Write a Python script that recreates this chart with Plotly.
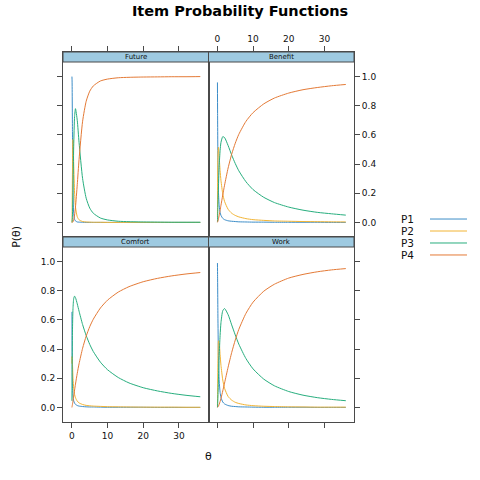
import plotly.graph_objects as go

# ---- data ----
theta = [0.01, 0.05, 0.15, 0.3, 0.5, 0.75, 1, 1.5, 2, 3, 4, 5, 6, 8, 10, 13, 16, 20, 24, 28, 32, 36]

future_p1 = [1.000, 0.970, 0.623, 0.203, 0.060, 0.021, 0.010, 0.003, 0.002, 0.001, 0.000, 0.000, 0.000, 0.000, 0.000, 0.000, 0.000, 0.000, 0.000, 0.000, 0.000, 0.000]
future_p2 = [0.000, 0.028, 0.334, 0.569, 0.400, 0.201, 0.106, 0.039, 0.018, 0.006, 0.003, 0.002, 0.001, 0.001, 0.000, 0.000, 0.000, 0.000, 0.000, 0.000, 0.000, 0.000]
future_p3 = [0.000, 0.002, 0.043, 0.224, 0.522, 0.727, 0.780, 0.700, 0.549, 0.300, 0.166, 0.098, 0.063, 0.030, 0.017, 0.008, 0.005, 0.003, 0.002, 0.001, 0.001, 0.001]
future_p4 = [0.000, 0.000, 0.001, 0.005, 0.018, 0.051, 0.105, 0.259, 0.431, 0.694, 0.831, 0.900, 0.936, 0.970, 0.983, 0.992, 0.995, 0.997, 0.998, 0.999, 0.999, 1.000]

benefit_p1 = [0.960, 0.746, 0.398, 0.205, 0.114, 0.069, 0.048, 0.028, 0.019, 0.011, 0.008, 0.006, 0.004, 0.003, 0.002, 0.002, 0.001, 0.001, 0.001, 0.001, 0.000, 0.000]
benefit_p2 = [0.036, 0.221, 0.471, 0.515, 0.448, 0.356, 0.286, 0.196, 0.144, 0.090, 0.063, 0.048, 0.038, 0.026, 0.019, 0.014, 0.010, 0.008, 0.006, 0.005, 0.004, 0.003]
benefit_p3 = [0.004, 0.031, 0.122, 0.255, 0.389, 0.492, 0.549, 0.588, 0.582, 0.527, 0.462, 0.404, 0.354, 0.279, 0.225, 0.172, 0.136, 0.105, 0.084, 0.069, 0.059, 0.050]
benefit_p4 = [0.000, 0.002, 0.010, 0.025, 0.049, 0.083, 0.118, 0.188, 0.255, 0.373, 0.468, 0.543, 0.604, 0.693, 0.753, 0.813, 0.853, 0.887, 0.910, 0.925, 0.937, 0.946]

comfort_p1 = [0.655, 0.408, 0.161, 0.079, 0.045, 0.029, 0.021, 0.013, 0.009, 0.006, 0.004, 0.003, 0.003, 0.002, 0.001, 0.001, 0.001, 0.001, 0.000, 0.000, 0.000, 0.000]
comfort_p2 = [0.300, 0.349, 0.303, 0.200, 0.131, 0.089, 0.066, 0.043, 0.031, 0.020, 0.014, 0.011, 0.009, 0.007, 0.005, 0.004, 0.003, 0.002, 0.002, 0.002, 0.001, 0.001]
comfort_p3 = [0.045, 0.237, 0.516, 0.677, 0.746, 0.763, 0.753, 0.710, 0.660, 0.568, 0.493, 0.432, 0.383, 0.310, 0.258, 0.205, 0.168, 0.135, 0.113, 0.096, 0.083, 0.073]
comfort_p4 = [0.000, 0.006, 0.020, 0.045, 0.078, 0.120, 0.160, 0.234, 0.299, 0.406, 0.489, 0.554, 0.605, 0.682, 0.736, 0.791, 0.828, 0.862, 0.885, 0.902, 0.915, 0.925]

work_p1 = [0.990, 0.896, 0.599, 0.332, 0.181, 0.104, 0.068, 0.037, 0.024, 0.013, 0.008, 0.006, 0.004, 0.003, 0.002, 0.001, 0.001, 0.001, 0.001, 0.000, 0.000, 0.000]
work_p2 = [0.009, 0.089, 0.319, 0.457, 0.444, 0.363, 0.288, 0.188, 0.131, 0.075, 0.050, 0.035, 0.027, 0.017, 0.012, 0.008, 0.006, 0.004, 0.003, 0.002, 0.002, 0.002]
work_p3 = [0.001, 0.015, 0.078, 0.201, 0.354, 0.493, 0.582, 0.663, 0.678, 0.636, 0.566, 0.497, 0.434, 0.335, 0.264, 0.194, 0.148, 0.109, 0.084, 0.067, 0.055, 0.046]
work_p4 = [0.000, 0.001, 0.003, 0.010, 0.022, 0.040, 0.062, 0.113, 0.167, 0.276, 0.376, 0.462, 0.535, 0.645, 0.722, 0.797, 0.845, 0.887, 0.912, 0.930, 0.943, 0.952]

categories = ["P1", "P2", "P3", "P4"]
panel_names = ["Comfort", "Work", "Future", "Benefit"]
x_ticks = [0, 10, 20, 30]
y_ticks = [0.0, 0.2, 0.4, 0.6, 0.8, 1.0]
y_tick_labels = ["0.0", "0.2", "0.4", "0.6", "0.8", "1.0"]

# ---- styling ----
colors = ["#3C8DC8", "#F2B434", "#27AE7E", "#E47A36"]
strip_fill = "#9ECAE1"
frame = "#4a4a4a"
font = "DejaVu Sans"

panels = {
    "Comfort": [comfort_p1, comfort_p2, comfort_p3, comfort_p4],
    "Work": [work_p1, work_p2, work_p3, work_p4],
    "Future": [future_p1, future_p2, future_p3, future_p4],
    "Benefit": [benefit_p1, benefit_p2, benefit_p3, benefit_p4],
}
axis_ids = {"Comfort": "", "Work": "2", "Future": "3", "Benefit": "4"}

fig = go.Figure()
for name in panel_names:
    k = axis_ids[name]
    for series, cat, col in zip(panels[name], categories, colors):
        fig.add_trace(go.Scatter(
            x=theta, y=series, mode="lines", name=cat, showlegend=False,
            line=dict(color=col, width=1, shape="spline", smoothing=0.6),
            xaxis="x" + k, yaxis="y" + k, hoverinfo="skip"))

XR = [-2.5, 38.3]
STRIP_LO = 1.1
STRIP_HI = 1.1686
YR = [-0.1, STRIP_HI]

def xax(domain, anchor, side, labels):
    return dict(domain=domain, anchor=anchor, side=side, range=XR, tickvals=x_ticks,
                showticklabels=labels, ticks="outside", ticklen=5, tickcolor=frame,
                showline=True, mirror=True, linecolor=frame, linewidth=1,
                showgrid=False, zeroline=False,
                tickfont=dict(family=font, size=9, color="#111111"))

def yax(domain, anchor, side, labels):
    return dict(domain=domain, anchor=anchor, side=side, range=YR, tickvals=y_ticks,
                ticktext=y_tick_labels, showticklabels=labels, ticks="outside", ticklen=5,
                tickcolor=frame, showline=True, mirror=True, linecolor=frame, linewidth=1,
                showgrid=False, zeroline=False,
                tickfont=dict(family=font, size=9, color="#111111"))

fig.update_layout(
    width=480, height=480,
    margin=dict(l=63, r=126, t=52, b=58),
    paper_bgcolor="white", plot_bgcolor="white",
    showlegend=False,
    xaxis=xax([0, 0.5], "y", "bottom", True),
    yaxis=yax([0, 0.5], "x", "left", True),
    xaxis2=xax([0.5, 1], "y2", "bottom", False),
    yaxis2=yax([0, 0.5], "x2", "right", False),
    xaxis3=xax([0, 0.5], "y3", "top", False),
    yaxis3=yax([0.5, 1], "x3", "left", False),
    xaxis4=xax([0.5, 1], "y4", "top", True),
    yaxis4=yax([0.5, 1], "x4", "right", True),
    title=dict(text="<b>Item Probability Functions</b>", x=0.5, xref="container",
               y=1 - 11 / 480, yref="container", yanchor="middle", xanchor="center",
               font=dict(family=font, size=14.5, color="black")),
)

shapes = []
annotations = []
for name in panel_names:
    k = axis_ids[name]
    shapes.append(dict(type="rect", xref="x%s domain" % k, yref="y" + k,
                       x0=0, x1=1, y0=STRIP_LO, y1=STRIP_HI,
                       fillcolor=strip_fill, line=dict(color=frame, width=1), layer="above"))
    annotations.append(dict(text=name, xref="x%s domain" % k, yref="y" + k,
                            x=0.5, y=(STRIP_LO + STRIP_HI) / 2, showarrow=False,
                            font=dict(family=font, size=7, color="#111111"),
                            xanchor="center", yanchor="middle"))

# axis labels
annotations.append(dict(text="P(θ)", xref="paper", yref="paper", x=-0.162, y=0.5,
                        textangle=-90, showarrow=False, xanchor="center", yanchor="middle",
                        font=dict(family=font, size=11, color="#111111")))
annotations.append(dict(text="θ", xref="paper", yref="paper", x=0.5, y=-0.092,
                        showarrow=False, xanchor="center", yanchor="middle",
                        font=dict(family=font, size=11, color="#111111")))

# legend (text left, line right)
leg_y = [0.5486, 0.5162, 0.4838, 0.4514]
for cat, col, ly in zip(categories, colors, leg_y):
    annotations.append(dict(text=cat, xref="paper", yref="paper", x=1.156, y=ly,
                            showarrow=False, xanchor="left", yanchor="middle",
                            font=dict(family=font, size=10.5, color="#111111")))
    shapes.append(dict(type="line", xref="paper", yref="paper", x0=1.2612, x1=1.3883,
                       y0=ly, y1=ly, line=dict(color=col, width=1)))

fig.update_layout(shapes=shapes, annotations=annotations)
fig.write_html("out.html", config={"displayModeBar": False},
               post_script="document.body.style.margin='0';document.body.style.padding='0';")
